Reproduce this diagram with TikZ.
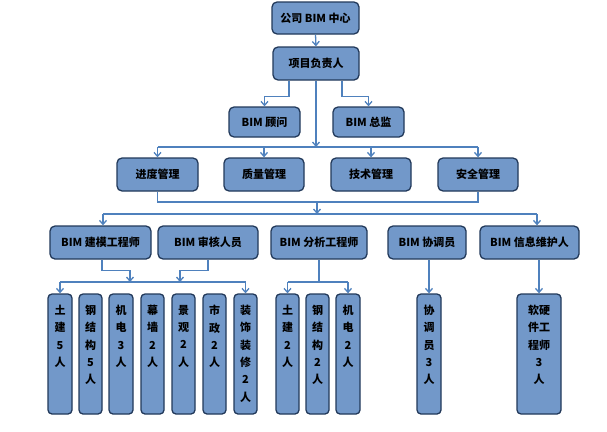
\documentclass[tikz,border=0pt]{standalone}
\usepackage{fontspec}
\setmainfont{Noto Sans CJK SC}
\usetikzlibrary{arrows.meta}
\definecolor{boxfill}{HTML}{7298C9}
\definecolor{boxline}{HTML}{22395A}
\definecolor{connc}{HTML}{4F81BD}
\tikzset{
 box/.style={draw=boxline, fill=boxfill, line width=1.3pt, rounded corners=5pt,
   font=\bfseries\fontsize{11}{13}\selectfont, inner sep=0pt, minimum height=33pt},
 colbox/.style={draw=boxline, fill=boxfill, line width=1.3pt, rounded corners=4pt,
   inner sep=0pt, minimum height=120pt},
 coltext/.style={font=\bfseries\fontsize{11}{17.3}\selectfont, align=center, anchor=north, inner sep=0pt},
 link/.style={draw=connc, line width=1.3pt},
 arr/.style={link, -{Straight Barb[length=4pt,width=7pt]}}
}
\begin{document}
\begin{tikzpicture}[x=1pt,y=-1pt]
\useasboundingbox (0,0) rectangle (607,431);
% level 1-2
\node[box, minimum width=87pt, minimum height=32pt] (top) at (315.5,18) {公司 BIM 中心};
\node[box, minimum width=86pt] (pm) at (316,63.5) {项目负责人};
\node[box, minimum width=71pt, minimum height=30pt] (gw) at (264.5,122) {BIM 顾问};
\node[box, minimum width=71pt, minimum height=30pt] (zj) at (368.5,122) {BIM 总监};
% level 3
\node[box, minimum width=81pt] (jd) at (157.5,174.5) {进度管理};
\node[box, minimum width=80pt] (zl) at (264,174.5) {质量管理};
\node[box, minimum width=80pt] (js) at (371,174.5) {技术管理};
\node[box, minimum width=80pt] (aq) at (478,174.5) {安全管理};
% level 4
\node[box, minimum width=101pt] (jm) at (100.5,242.5) {BIM 建模工程师};
\node[box, minimum width=100pt] (sh) at (208,242.5) {BIM 审核人员};
\node[box, minimum width=96pt] (fx) at (319,242.5) {BIM 分析工程师};
\node[box, minimum width=78pt] (xt) at (427,242.5) {BIM 协调员};
\node[box, minimum width=99pt] (xx) at (529.5,242.5) {BIM 信息维护人};
% columns
\node[colbox, minimum width=24pt] (c1) at (60,354) {};
\node[colbox, minimum width=23pt] (c2) at (90.5,354) {};
\node[colbox, minimum width=24pt] (c3) at (121,354) {};
\node[colbox, minimum width=23pt] (c4) at (152.5,354) {};
\node[colbox, minimum width=23pt] (c5) at (183.5,354) {};
\node[colbox, minimum width=23pt] (c6) at (214.5,354) {};
\node[colbox, minimum width=23pt] (c7) at (245.5,354) {};
\node[colbox, minimum width=23pt] (c8) at (287.5,354) {};
\node[colbox, minimum width=23pt] (c9) at (317.5,354) {};
\node[colbox, minimum width=24pt] (c10) at (348,354) {};
\node[colbox, minimum width=24pt] (c11) at (429,354) {};
\node[colbox, minimum width=44pt] (c12) at (539,354) {};
\node[coltext] (t1) at (60,305) {土\\建\\5\\人};
\node[coltext] (t2) at (90.5,305) {钢\\结\\构\\5\\人};
\node[coltext] (t3) at (121,305) {机\\电\\3\\人};
\node[coltext] (t4) at (152.5,305) {幕\\墙\\2\\人};
\node[coltext] (t5) at (183.5,305) {景\\观\\2\\人};
\node[coltext] (t6) at (214.5,305) {市\\政\\2\\人};
\node[coltext] (t7) at (245.5,305) {装\\饰\\装\\修\\2\\人};
\node[coltext] (t8) at (287.5,305) {土\\建\\2\\人};
\node[coltext] (t9) at (317.5,305) {钢\\结\\构\\2\\人};
\node[coltext] (t10) at (348,305) {机\\电\\2\\人};
\node[coltext] (t11) at (429,305) {协\\调\\员\\3\\人};
\node[coltext] (t12) at (539,305) {软硬\\件工\\程师\\3\\人};
% connectors
\draw[arr] (top.south) -- (pm.north);
\draw[arr] ([xshift=-27pt]pm.south) -- ++(0,16) -| (gw.north);
\draw[arr] ([xshift=26pt]pm.south) -- ++(0,16) -| (zj.north);
\coordinate (h1) at (316,147);
\draw[arr] (pm.south) -- (h1);
\draw[link] (jd.north |- h1) -- (aq.north |- h1);
\foreach \n in {jd,zl,js,aq} \draw[arr] (\n.north |- h1) -- (\n.north);
\coordinate (h2) at (317,202);
\coordinate (h3) at (317,214);
\draw[link] (jd.south) |- (h2) -| (aq.south);
\draw[arr] (h2) -- (h3);
\coordinate (a1) at (103,214);
\coordinate (a2) at (537,214);
\draw[link] (a1) -- (a2);
\draw[arr] (a1) -- (a1 |- jm.north);
\draw[arr] (a2) -- (a2 |- xx.north);
% below level 4
\coordinate (m1) at (130,282);
\coordinate (m2) at (180,282);
\draw[arr] ([xshift=1.5pt]jm.south) -- ++(0,11) -| (m1);
\draw[arr] (sh.south) -- ++(0,11) -| (m2);
\draw[link] (c1.north |- m1) -- (c7.north |- m1);
\draw[arr] (c1.north |- m1) -- (c1.north);
\draw[arr] (c7.north |- m1) -- (c7.north);
\coordinate (m3) at (319,282);
\draw[link] (fx.south) -- (m3);
\draw[link] (c8.north |- m3) -- (c10.north |- m3);
\draw[arr] (c8.north |- m3) -- (c8.north);
\draw[arr] (c10.north |- m3) -- (c10.north);
\draw[arr] (c11.north |- xt.south) -- (c11.north);
\draw[arr] (c12.north |- xx.south) -- (c12.north);
\end{tikzpicture}
\end{document}
